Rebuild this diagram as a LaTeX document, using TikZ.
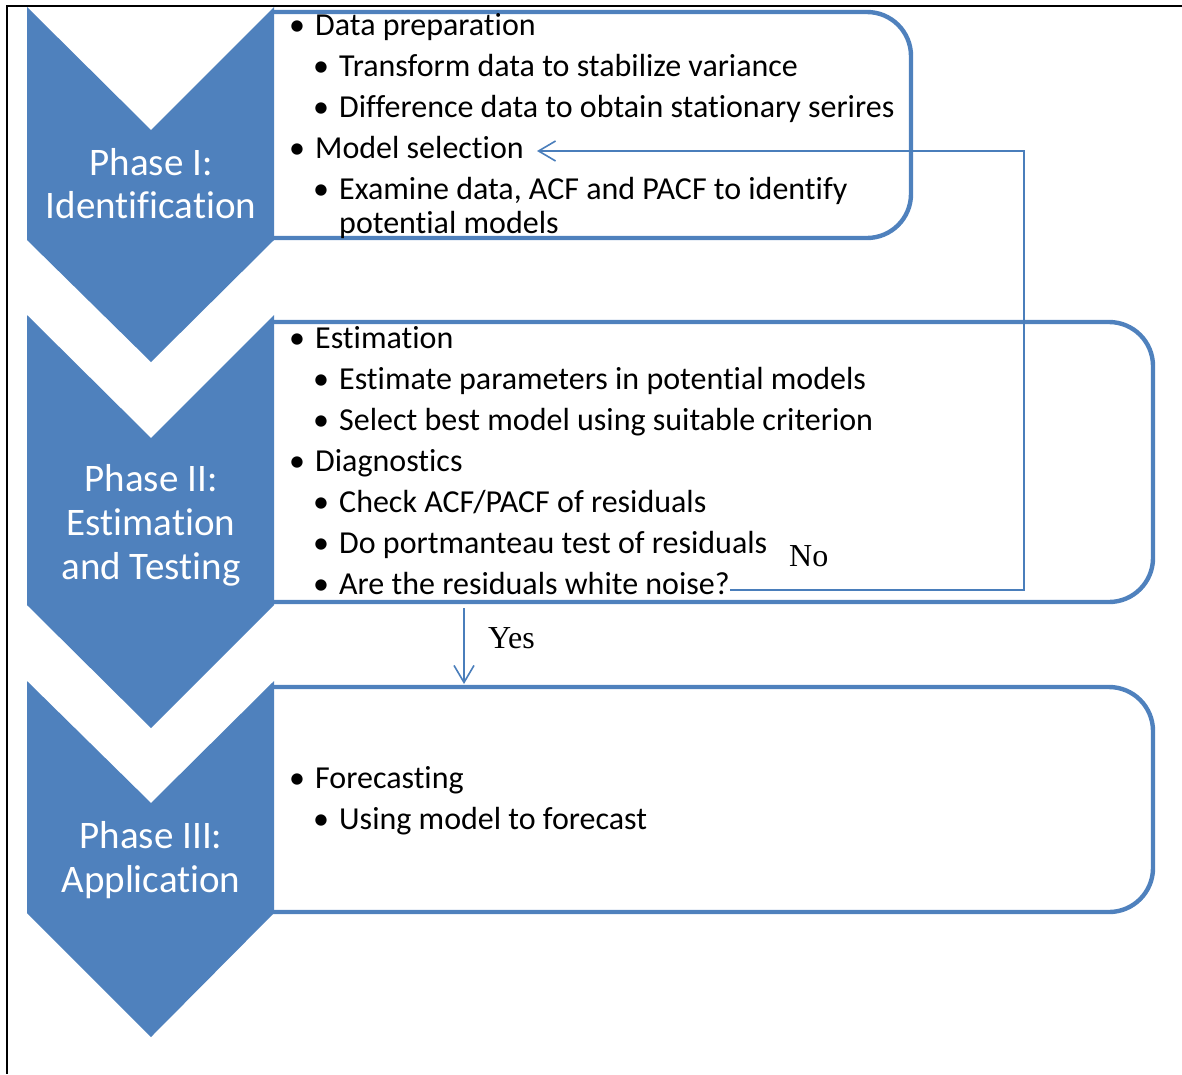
\documentclass[tikz,border=0pt]{standalone}
\usepackage{fontspec}
\setmainfont{Carlito}[RawFeature={-liga;-clig;-calt;-dlig}]
\newfontfamily\timesf{Liberation Serif}
\usetikzlibrary{arrows.meta}
\definecolor{ofblue}{RGB}{79,129,189}
\definecolor{lnblue}{RGB}{74,126,187}
\begin{document}
\begin{tikzpicture}[x=1pt,y=-1pt,
  chev/.style={fill=ofblue, draw=none},
  pbox/.style={draw=ofblue, line width=4.4pt, rounded corners=44pt},
  ptxt/.style={text=white, font=\fontsize{39}{44}\selectfont, anchor=base, inner sep=0pt},
  btxt/.style={font=\fontsize{32}{40}\selectfont, anchor=base west, inner sep=0pt},
  bul/.style={font=\fontsize{32}{40}\selectfont, anchor=base, inner sep=0pt},
  flowline/.style={draw=lnblue, line width=1.6pt},
  flowarrow/.style={flowline, -{Straight Barb[length=17pt,width=20pt]}},
  ynl/.style={font=\timesf\fontsize{32}{38}\selectfont, anchor=base west, inner sep=0pt}]
\useasboundingbox (0,0) rectangle (1182,1074);
% frame
\draw[line width=2.4pt, black] (1182,6) -- (7,6) -- (7,1074);
% boxes
\draw[pbox] (272,12) -- (911,12) -- (911,238) -- (272,238);
\draw[pbox] (272,322) -- (1153,322) -- (1153,602) -- (272,602);
\draw[pbox] (272,687) -- (1153,687) -- (1153,912) -- (272,912);
% chevrons
\fill[chev] (27,7) -- (151,130) -- (274,7) -- (274,240) -- (151,362) -- (27,240) -- cycle;
\fill[chev] (27,315) -- (151,438) -- (274,315) -- (274,605) -- (151,728) -- (27,605) -- cycle;
\fill[chev] (27,681) -- (151,803) -- (274,681) -- (274,913) -- (151,1037) -- (27,913) -- cycle;
% phase labels
\node[ptxt] (p1a) at (151,175) {Phase I:};
\node[ptxt] (p1b) at (151,218) {Identification};
\node[ptxt] (p2a) at (151,491) {Phase II:};
\node[ptxt] (p2b) at (151,535) {Estimation};
\node[ptxt] (p2c) at (151,579) {and Testing};
\node[ptxt] (p3a) at (151,848) {Phase III:};
\node[ptxt] (p3b) at (151,892) {Application};
% box 1 text
\node[bul] at (297,35) {•};
\node[btxt] (dp) at (315,35) {Data preparation};
\node[bul] at (321,76) {•};
\node[btxt] (tr) at (339,76) {Transform data to stabilize variance};
\node[bul] at (321,117) {•};
\node[btxt] (df) at (339,117) {Difference data to obtain stationary serires};
\node[bul] at (297,158) {•};
\node[btxt] (ms) at (315,158) {Model selection};
\node[bul] at (321,199) {•};
\node[btxt] (ex) at (339,199) {Examine data, ACF and PACF to identify};
\node[btxt] (pm) at (339,233) {potential models};
% box 2 text
\node[bul] at (297,348) {•};
\node[btxt] (es) at (315,348) {Estimation};
\node[bul] at (321,389) {•};
\node[btxt] (ep) at (339,389) {Estimate parameters in potential models};
\node[bul] at (321,430) {•};
\node[btxt] (sb) at (339,430) {Select best model using suitable criterion};
\node[bul] at (297,471) {•};
\node[btxt] (dg) at (315,471) {Diagnostics};
\node[bul] at (321,512) {•};
\node[btxt] (ck) at (339,512) {Check ACF/PACF of residuals};
\node[bul] at (321,553) {•};
\node[btxt] (pt) at (339,553) {Do portmanteau test of residuals};
\node[bul] at (321,594) {•};
\node[btxt] (wn) at (339,594) {Are the residuals white noise?};
% box 3 text
\node[bul] at (297,788) {•};
\node[btxt] (fc) at (315,788) {Forecasting};
\node[bul] at (321,829) {•};
\node[btxt] (us) at (339,829) {Using model to forecast};
% labels
\node[ynl] (no) at (789,566) {No};
\node[ynl] (yes) at (488,648) {Yes};
% connectors
\coordinate (fbA) at (1024,590);
\coordinate (fbB) at (1024,151);
\coordinate (fbC) at (537,151);
\draw[flowarrow] (wn.base east |- fbA) -- (fbA) -- (fbB) -- (fbC);
\coordinate (ys) at (464,608);
\coordinate (ye) at (464,684);
\draw[flowarrow] (ys) -- (ye);
\end{tikzpicture}
\end{document}
